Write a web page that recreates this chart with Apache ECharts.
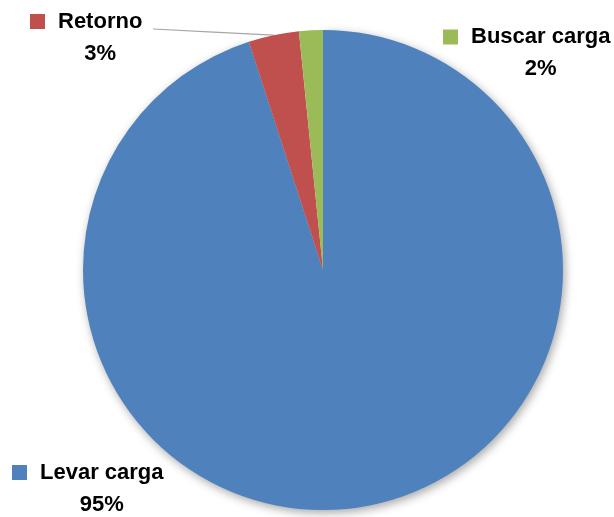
<!DOCTYPE html>
<html>
<head>
<meta charset="utf-8">
<script src="https://cdn.jsdelivr.net/npm/echarts@6/dist/echarts.min.js"></script>
<style>
html,body{margin:0;padding:0;background:#fff;}
#chart{width:614px;height:517px;}
</style>
</head>
<body>
<div id="chart"></div>
<script>
const categories = ['Levar carga', 'Retorno', 'Buscar carga'];
const values = [95.0, 3.4, 1.6];
const colors = ['#4F81BD', '#C0504D', '#9BBB59'];

// label block top-left anchors (layout only)
const labelAnchors = [[12, 456.5], [30, 5.5], [443, 21]];
const leaderEnd = [153, 29];

const chart = echarts.init(document.getElementById('chart'), null, {renderer: 'canvas'});

const font = '"Liberation Sans", Arial, sans-serif';

const data = categories.map((name, i) => ({
  name: name,
  value: values[i],
  itemStyle: i === 0
    ? {color: colors[i], shadowBlur: 10, shadowColor: 'rgba(0,0,0,0.35)', shadowOffsetX: 2, shadowOffsetY: 3}
    : {color: colors[i]},
  label: {
    rich: {
      sq: {width: 15, height: 15, backgroundColor: colors[i], lineHeight: 32},
      gap: {width: 13, lineHeight: 32},
      name: {fontFamily: font, fontWeight: 'bold', fontSize: 22, color: '#000', lineHeight: 32, align: 'left'},
      pct: {fontFamily: font, fontWeight: 'bold', fontSize: 22, color: '#000', lineHeight: 32, align: 'center', padding: [0, 0, 0, 28]}
    }
  },
  labelLine: {show: i === 1}
}));

chart.setOption({
  animation: false,
  backgroundColor: '#fff',
  series: [{
    type: 'pie',
    center: [323, 270],
    radius: 240,
    startAngle: 90,
    clockwise: true,
    avoidLabelOverlap: false,
    data: data,
    label: {
      show: true,
      position: 'outside',
      formatter: function (p) {
        return '{sq|}{gap|}{name|' + p.name + '}\n{pct|' + Math.round(p.percent) + '%}';
      }
    },
    labelLine: {
      show: true,
      lineStyle: {color: '#a6a6a6', width: 1.2}
    },
    labelLayout: function (params) {
      const a = labelAnchors[params.dataIndex];
      const res = {x: a[0], y: a[1], align: 'left', verticalAlign: 'top'};
      if (params.dataIndex === 1 && params.labelLinePoints) {
        const s = params.labelLinePoints[0];
        res.labelLinePoints = [s, [(s[0] + leaderEnd[0]) / 2, (s[1] + leaderEnd[1]) / 2], leaderEnd];
      }
      return res;
    },
    emphasis: {disabled: true}
  }]
});
</script>
</body>
</html>
